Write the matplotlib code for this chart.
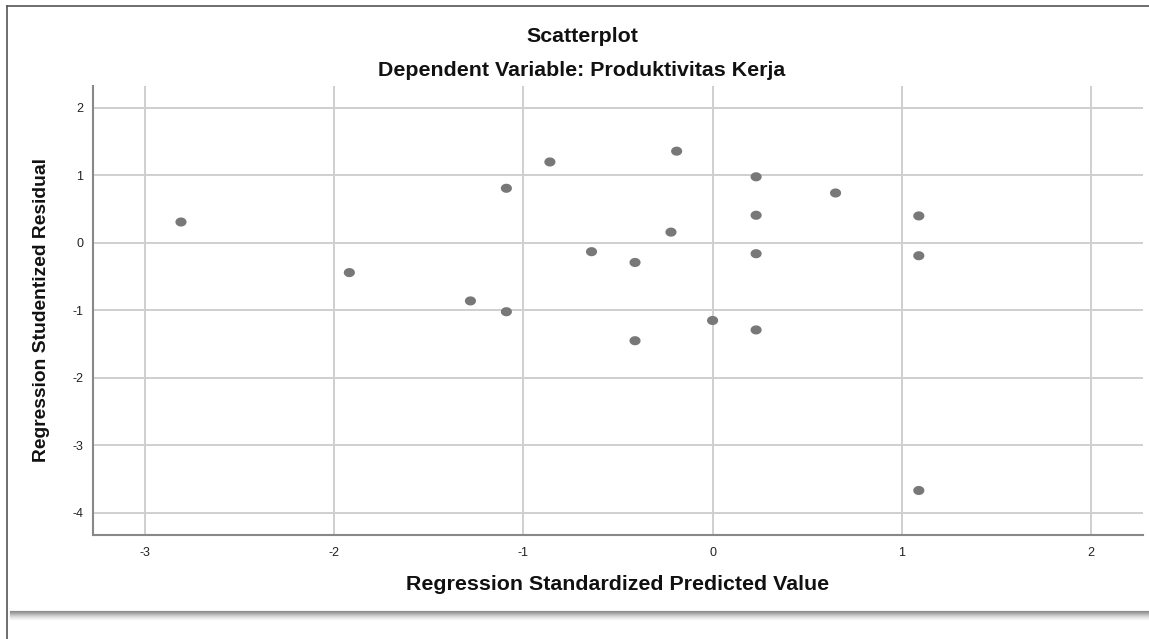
import numpy as np
import matplotlib
matplotlib.use("Agg")
import matplotlib.pyplot as plt
from matplotlib.path import Path
from matplotlib.lines import Line2D

# ---- data ----
pred_std = [-2.81, -1.92, -1.28, -1.09, -1.09, -0.86, -0.64, -0.41, -0.41, -0.22,
            -0.19, 0.00, 0.23, 0.23, 0.23, 0.23, 0.65, 1.09, 1.09, 1.09]
resid_stud = [0.31, -0.44, -0.86, 0.81, -1.02, 1.20, -0.13, -0.29, -1.45, 0.16,
              1.36, -1.15, 0.98, 0.41, -0.16, -1.29, 0.74, 0.40, -0.19, -3.67]
x_ticks = [-3, -2, -1, 0, 1, 2]
y_ticks = [2, 1, 0, -1, -2, -3, -4]
title1 = "Scatterplot"
title2 = "Dependent Variable: Produktivitas Kerja"
x_label = "Regression Standardized Predicted Value"
y_label = "Regression Studentized Residual"

plt.rcParams['font.family'] = ['Liberation Sans', 'DejaVu Sans']

W, H = 1149, 639
fig = plt.figure(figsize=(W / 100, H / 100), dpi=100)
fig.patch.set_facecolor("white")

def fx(px):
    return px / W

def fy(py):
    return 1 - py / H

ax = fig.add_axes([fx(93), fy(535), fx(1143) - fx(93), fy(86) - fy(535)])
ax.set_xlim(-3.275, 2.275)
ax.set_ylim(-4.33, 2.326)
ax.set_xticks(x_ticks)
ax.set_yticks(y_ticks)
ax.set_xticklabels([str(v) for v in x_ticks])
ax.set_yticklabels([str(v) for v in y_ticks])
ax.tick_params(axis="x", length=0, labelsize=9, colors="#222222", pad=9)
ax.tick_params(axis="y", length=0, labelsize=9, colors="#222222", pad=7)
ax.grid(True, color="#cfcfcf", linewidth=1.4)
ax.set_axisbelow(True)
for s in ["top", "right"]:
    ax.spines[s].set_visible(False)
for s in ["left", "bottom"]:
    ax.spines[s].set_color("#888888")
    ax.spines[s].set_linewidth(1.5)

# ellipse marker
t = np.linspace(0, 2 * np.pi, 60)
ell = Path(np.column_stack([1.22 * np.cos(t), np.sin(t)]), closed=True)
ax.scatter(pred_std, resid_stud, marker=ell, s=64, color="#787878",
           edgecolors="none", zorder=3)

# labels
fs_big = 15.4
fig.text(fx(582), fy(36), title1, ha="center", va="center",
         fontsize=fs_big, fontweight="bold", color="#111111")
fig.text(fx(582), fy(71), title2, ha="center", va="center",
         fontsize=fs_big, fontweight="bold", color="#111111")
fig.text(fx(618), fy(585), x_label, ha="center", va="center",
         fontsize=fs_big, fontweight="bold", color="#111111")
fig.text(fx(42), fy(310), y_label, ha="center", va="center", rotation=90,
         fontsize=13.9, fontweight="bold", color="#111111")

# outer frame
fig.add_artist(Line2D([fx(7), fx(7)], [fy(6), fy(639)], color="#555555", lw=1.2))
fig.add_artist(Line2D([fx(7), fx(1149)], [fy(6), fy(6)], color="#555555", lw=1.2))
# bottom shadow
shades = ["#8c8c8c", "#999999", "#a8a8a8", "#b8b8b8", "#c8c8c8",
          "#d6d6d6", "#e2e2e2", "#ececec", "#f4f4f4"]
for i, c in enumerate(shades):
    fig.add_artist(Line2D([fx(10), fx(1149)], [fy(611 + i), fy(611 + i)],
                          color=c, lw=0.85))

fig.savefig("out.png", dpi=100, facecolor="white")
